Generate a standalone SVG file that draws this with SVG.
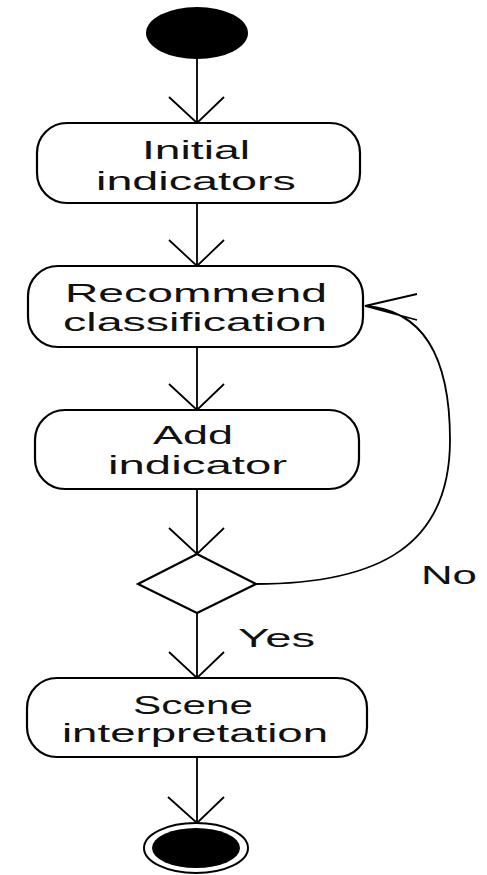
<svg xmlns="http://www.w3.org/2000/svg" width="487" height="875" viewBox="0 0 487 875">
<style>
.box{fill:#fff;stroke:#000;stroke-width:2.2}
.ln{fill:none;stroke:#000;stroke-width:1.8}
.t{font-family:"Liberation Sans",Arial,sans-serif;font-size:26px;fill:#111}
</style>
<rect width="487" height="875" fill="#fff"/>
<g id="connectors">
<path class="ln" d="M197 59V123M169 97L197 123L224 97"/>
<path class="ln" d="M197 203V266M169 240L197 266L224 240"/>
<path class="ln" d="M197 347V410M169 384L197 410L224 384"/>
<path class="ln" d="M197 489V554M169 528L197 554L224 528"/>
<path class="ln" d="M197 613V678M169 652L197 678L224 652"/>
<path class="ln" d="M197 757V823M168 797L197 823L224 797"/>
<path class="ln" d="M255 584C380 584 450 545 450 440C450 360 425 310 365 306M417 294L365 306L417 320"/>
<text class="t" x="421" y="584" textLength="56" lengthAdjust="spacingAndGlyphs">No</text>
<text class="t" x="238" y="647" textLength="77" lengthAdjust="spacingAndGlyphs">Yes</text>
</g>
<g id="start"><ellipse cx="197" cy="33" rx="51" ry="26" fill="#000"/></g>
<g id="initial">
<rect class="box" x="37" y="123" width="323" height="80" rx="30"/>
<text class="t" x="142" y="159" textLength="108" lengthAdjust="spacingAndGlyphs">Initial</text>
<text class="t" x="96" y="190" textLength="200" lengthAdjust="spacingAndGlyphs">indicators</text>
</g>
<g id="recommend">
<rect class="box" x="28" y="266" width="335" height="81" rx="30"/>
<text class="t" x="65" y="302" textLength="262" lengthAdjust="spacingAndGlyphs">Recommend</text>
<text class="t" x="63" y="331" textLength="264" lengthAdjust="spacingAndGlyphs">classification</text>
</g>
<g id="add">
<rect class="box" x="35" y="410" width="324" height="79" rx="30"/>
<text class="t" x="153" y="444" textLength="80" lengthAdjust="spacingAndGlyphs">Add</text>
<text class="t" x="108" y="474" textLength="179" lengthAdjust="spacingAndGlyphs">indicator</text>
</g>
<g id="decision"><path class="box" d="M197 554L256 584L197 613L138 584Z"/></g>
<g id="scene">
<rect class="box" x="27" y="678" width="340" height="79" rx="30"/>
<text class="t" x="133" y="714" textLength="120" lengthAdjust="spacingAndGlyphs">Scene</text>
<text class="t" x="62" y="742" textLength="266" lengthAdjust="spacingAndGlyphs">interpretation</text>
</g>
<g id="end">
<ellipse cx="196" cy="848" rx="52" ry="25" fill="#fff" stroke="#000" stroke-width="2"/>
<ellipse cx="196" cy="848" rx="44" ry="20" fill="#000"/>
</g>
</svg>
